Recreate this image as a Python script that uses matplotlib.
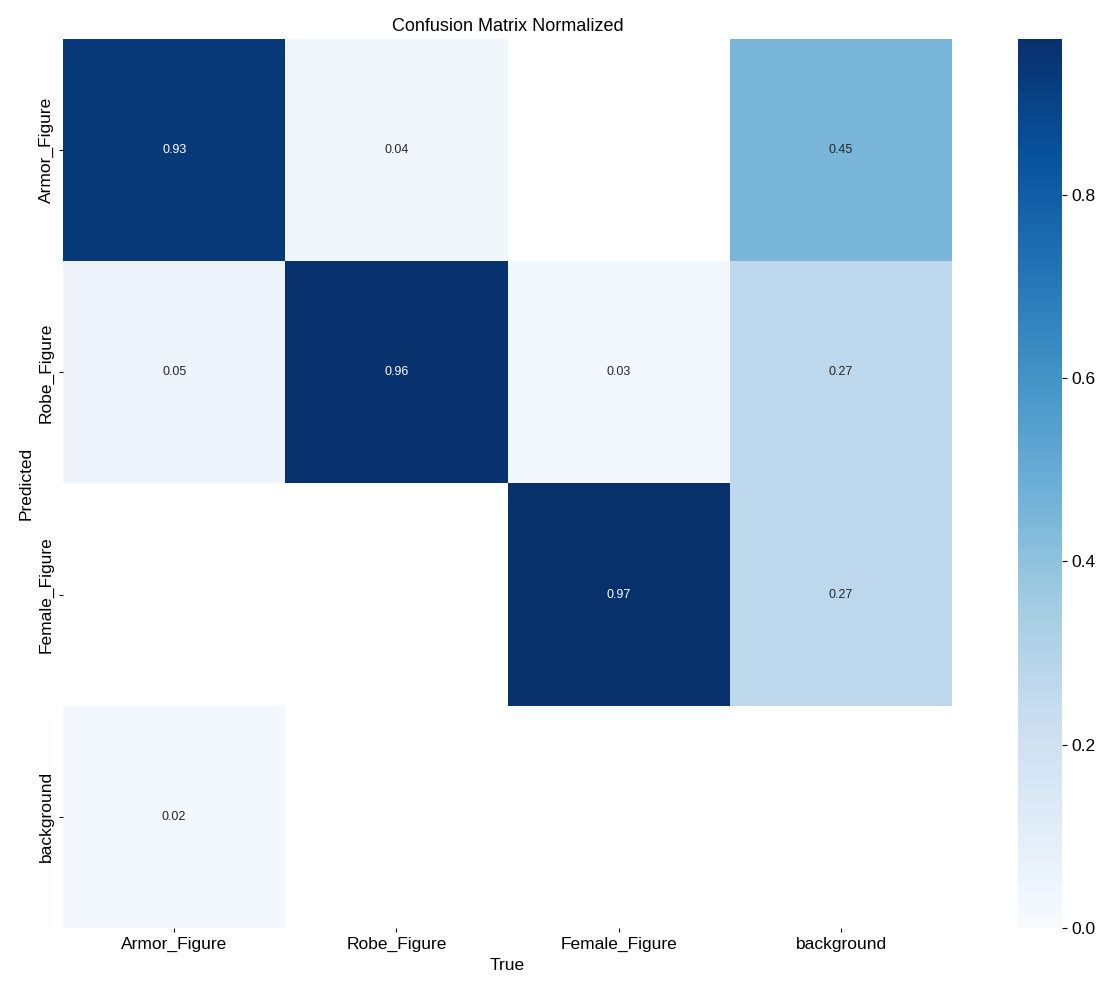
import numpy as np
import matplotlib.pyplot as plt
import seaborn as sns

names = ["Armor_Figure", "Robe_Figure", "Female_Figure", "background"]
matrix = np.array([
    [0.93, 0.04, 0.00, 0.45],
    [0.05, 0.96, 0.03, 0.27],
    [0.00, 0.00, 0.97, 0.27],
    [0.02, 0.00, 0.00, 0.00],
])

plt.rcParams["font.family"] = ["Liberation Sans", "DejaVu Sans"]

fig = plt.figure(figsize=(11.15, 9.89), dpi=100)
ax = fig.add_axes([0.0565, 0.0617, 0.7975, 0.8989])
cax = fig.add_axes([0.913, 0.0617, 0.0395, 0.8989])

data = matrix.copy()
data[data < 0.005] = np.nan

sns.heatmap(data, ax=ax, cbar_ax=cax, annot=True, annot_kws={"size": 9},
            cmap="Blues", fmt=".2f", square=False, vmin=0.0,
            xticklabels=names, yticklabels=names)
ax.set_facecolor((1, 1, 1))
ax.set_xlabel("True", fontsize=12.5)
ax.set_ylabel("Predicted", fontsize=12.5)
ax.set_title("Confusion Matrix Normalized", fontsize=13)
ax.tick_params(labelsize=12.5, length=3)
cax.tick_params(labelsize=12.5)
for s in cax.spines.values():
    s.set_visible(False)

fig.savefig("out.png", dpi=100)
